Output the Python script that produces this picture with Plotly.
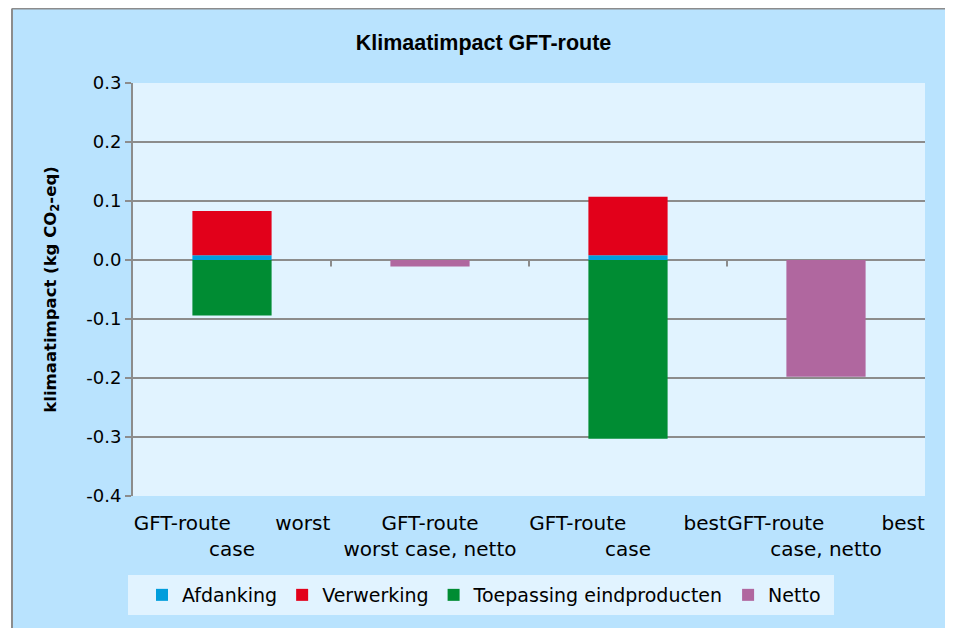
import plotly.graph_objects as go

categories = ["GFT-route worst case", "GFT-route worst case, netto",
              "GFT-route best case", "GFT-route best case, netto"]
NB = "\u00a0"
tick_labels = ["GFT-route" + NB * 7 + "worst<br>case",
               "GFT-route<br>worst case, netto",
               "GFT-route" + NB * 9 + "best<br>case",
               "GFT-route" + NB * 9 + "best<br>case, netto"]
y_tick_values = [-0.4, -0.3, -0.2, -0.1, 0.0, 0.1, 0.2, 0.3]
y_tick_labels = ["-0.4", "-0.3", "-0.2", "-0.1", "0.0", "0.1", "0.2", "0.3"]
afdanking = [0.008, None, 0.008, None]
verwerking = [0.075, None, 0.099, None]
toepassing = [-0.094, None, -0.303, None]
netto = [None, -0.011, None, -0.198]

font = "DejaVu Sans"
fig = go.Figure()
series = [("Afdanking", afdanking, "#009DDC"),
          ("Verwerking", verwerking, "#E2001A"),
          ("Toepassing eindproducten", toepassing, "#008C33"),
          ("Netto", netto, "#B0679F")]
for name, vals, col in series:
    fig.add_trace(go.Bar(x=categories, y=vals, name=name,
                         marker=dict(color=col, line=dict(width=0))))

# figure is drawn with an 8px page offset; plot area in figure pixels
PL, PR, PT, PB = 125, 917, 75, 488
W, H = 945, 620
PW, PH = PR - PL, PB - PT

def px(fx):
    return (fx - PL) / PW

def py(fy):
    return (PB - fy) / PH

shapes = []
# category-boundary tick marks on the zero line
for b in [0.5, 1.5, 2.5]:
    shapes.append(dict(type="line", xref="x", yref="y", x0=b, x1=b, y0=0, y1=-0.011,
                       line=dict(color="#8c8c8c", width=2)))
# outer chart frame (white outside, gray border)
L = px(4)
T = py(0.5)
shapes += [
    dict(type="rect", xref="paper", yref="paper", x0=-0.3, x1=L, y0=-0.5, y1=1.4,
         fillcolor="white", line=dict(width=0), layer="above"),
    dict(type="line", xref="paper", yref="paper", x0=L, x1=L, y0=-0.5, y1=T,
         line=dict(color="#8c8c8c", width=2), layer="above"),
    dict(type="line", xref="paper", yref="paper", x0=L, x1=1.1, y0=T, y1=T,
         line=dict(color="#8c8c8c", width=2), layer="above"),
    # legend box
    dict(type="rect", xref="paper", yref="paper", x0=px(120), x1=px(826),
         y0=py(607), y1=py(567), fillcolor="#E1F3FF", line=dict(width=0),
         layer="below"),
]

fig.update_layout(
    width=W, height=H,
    margin=dict(l=PL, r=W - PR, t=PT, b=H - PB, autoexpand=False),
    paper_bgcolor="#B9E3FE", plot_bgcolor="#E1F3FF",
    barmode="relative", bargap=0.6,
    font=dict(family=font, size=17, color="black"),
    title=dict(text="<b>Klimaatimpact GFT-route</b>", x=475.5 / W, xanchor="center",
               y=1 - 34 / H, yanchor="middle",
               font=dict(family="Liberation Sans", size=21.5)),
    showlegend=True,
    legend=dict(orientation="h", x=px(134), xanchor="left",
                y=py(587), yanchor="middle",
                bgcolor="rgba(0,0,0,0)", font=dict(family=font, size=19),
                traceorder="normal", itemwidth=30),
    shapes=shapes,
)
fig.update_xaxes(tickmode="array", tickvals=categories, ticktext=tick_labels,
                 showgrid=False, showline=False, ticks="", tickangle=0,
                 ticklabelstandoff=13,
                 tickfont=dict(family=font, size=20))
fig.update_yaxes(range=[-0.4, 0.3], tickmode="array", tickvals=y_tick_values,
                 ticktext=y_tick_labels,
                 showgrid=True, gridcolor="#8c8c8c", gridwidth=2,
                 zeroline=True, zerolinecolor="#8c8c8c", zerolinewidth=2,
                 showline=True, linecolor="#8c8c8c", linewidth=2,
                 ticks="outside", ticklen=6, tickcolor="#8c8c8c", tickwidth=2,
                 tickfont=dict(family=font, size=18),
                 title=dict(text="<b>klimaatimpact (kg CO<sub>2</sub>-eq)</b>", standoff=26,
                            font=dict(family=font, size=16.5)))
fig.write_html("out.html")
